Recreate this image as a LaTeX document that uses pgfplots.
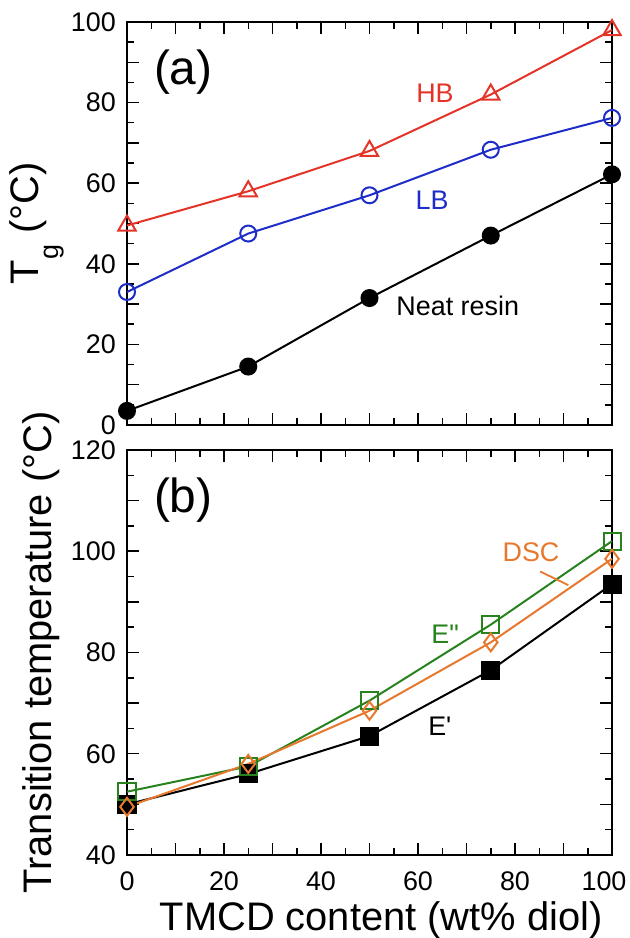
\documentclass[border=0pt]{standalone}
\usepackage{fontspec}
\setmainfont{Liberation Sans}[Ligatures=TeXOff]
\usepackage{pgfplots}
\pgfplotsset{compat=1.18}
\definecolor{cred}{RGB}{228,52,40}
\definecolor{cblue}{RGB}{30,45,200}
\definecolor{cgreen}{RGB}{40,130,30}
\definecolor{corange}{RGB}{232,120,45}
\begin{document}
\begin{tikzpicture}
\pgfplotsset{
 common/.style={
  scale only axis, width=485bp, anchor=south west,
  xmin=0, xmax=100,
  xtick={0,10,...,100}, minor x tick num=1, minor y tick num=1,
  axis line style={line width=1.7bp},
  every tick/.style={line width=1.5bp, black},
  major tick length=12bp, minor tick length=7bp,
  tick label style={font=\fontsize{27}{27}\selectfont},
  label style={font=\fontsize{40}{40}\selectfont},
  /pgf/number format/assume math mode=true,
  yticklabel style={inner sep=0pt, anchor=east, xshift=-11bp},
  xticklabel style={inner sep=0pt, anchor=north, yshift=-17bp},
  clip=false,
  every axis plot/.append style={line width=2bp},
 },
}
\begin{axis}[common,
  at={(127bp,513bp)}, height=403bp,
  ymin=0, ymax=100,
  ytick={0,10,...,100}, yticklabels={0,,20,,40,,60,,80,,100},
  xticklabels={},
  ylabel={T\raisebox{-20bp}{\fontsize{27}{27}\selectfont g} (°C)},
  ylabel style={at={(axis description cs:-0.183,0.5)}, anchor=base, inner sep=0pt},
]
\addplot[black, mark=*, mark size=8bp, mark options={fill=black}] coordinates {
 (0,3.5) (25,14.5) (50,31.5) (75,47) (100,62.2)};
\addplot[cblue, mark=o, mark size=8bp, mark options={fill=white}] coordinates {
 (0,33) (25,47.5) (50,57) (75,68.3) (100,76.2)};
\addplot[cred, mark=triangle, mark size=10bp, mark options={fill=white}] coordinates {
 (0,49.5) (25,58) (50,68) (75,82) (100,98)};
\node[font=\fontsize{48}{48}\selectfont] at (axis cs:11.6,87.6) {(a)};
\node[font=\fontsize{27}{27}\selectfont, text=cred] at (axis cs:63.5,82.4) {HB};
\node[font=\fontsize{27}{27}\selectfont, text=cblue] at (axis cs:62.9,55.7) {LB};
\node[font=\fontsize{27}{27}\selectfont, text=black] at (axis cs:68.2,29.5) {Neat resin};
\end{axis}
\begin{axis}[common,
  at={(127bp,83bp)}, height=405bp,
  ymin=40, ymax=120,
  ytick={40,50,...,120}, yticklabels={40,,60,,80,,100,,120},
  xticklabels={0,,20,,40,,60,,80,,\hspace*{-16bp}100},
  xlabel={TMCD content (wt\% diol)},
  xlabel style={at={(axis description cs:0.524,0)}, anchor=base, yshift=-75bp, inner sep=0pt},
  ylabel={Transition temperature (°C)},
  ylabel style={at={(axis description cs:-0.155,0.5)}, anchor=base, inner sep=0pt},
]
\addplot[black, mark=square*, mark size=8.5bp, mark options={fill=black}] coordinates {
 (0,50) (25,56) (50,63.5) (75,76.5) (100,93.5)};
\addplot[cgreen, mark=square, mark size=8.5bp, mark options={fill=white}] coordinates {
 (0,52.5) (25,57.5) (50,70.5) (75,85.5) (100,102)};
\addplot[corange, mark=diamond, mark size=9bp, mark options={fill=white}] coordinates {
 (0,49.5) (25,58) (50,68.5) (75,82) (100,98.5)};
\draw[corange, line width=1.8bp] (axis cs:85.2,96.0) -- (axis cs:91.0,93.3);
\node[font=\fontsize{48}{48}\selectfont] at (axis cs:11.6,110.1) {(b)};
\node[font=\fontsize{27}{27}\selectfont, text=corange] at (axis cs:83.3,99.9) {DSC};
\node[font=\fontsize{27}{27}\selectfont, text=cgreen] at (axis cs:65.6,83.7) {E"};
\node[font=\fontsize{27}{27}\selectfont, text=black] at (axis cs:64.5,65.5) {E'};
\end{axis}
\pgfresetboundingbox
\useasboundingbox (0,0) rectangle (630bp,938bp);
\end{tikzpicture}
\end{document}
